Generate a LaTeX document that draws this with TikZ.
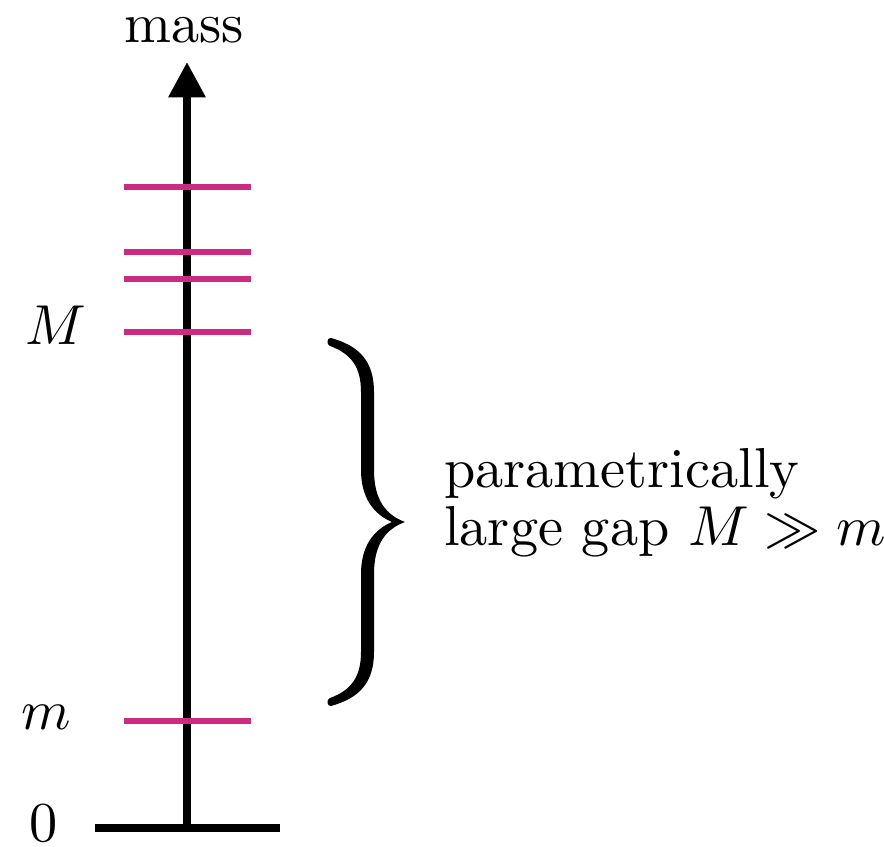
\documentclass[tikz,border=0pt]{standalone}
\usepackage{amsmath,amssymb}
\usetikzlibrary{arrows.meta}
\definecolor{lvl}{RGB}{204,44,128}
\begin{document}
\begin{tikzpicture}[x=0.1776pt,y=-0.1776pt,
  axisline/.style={line width=1.45pt},
  levelline/.style={draw=lvl,line width=0.9pt},
  lbl/.style={inner sep=0pt,anchor=base,font=\fontsize{10}{10.3}\selectfont}]
\useasboundingbox (0,0) rectangle (884,847);
% axis
\coordinate (o) at (187,828);
\coordinate (top) at (187,62);
\coordinate (bl) at (95,828);
\coordinate (br) at (280,828);
\draw[axisline] (bl) -- (br);
\draw[axisline,-{Triangle[length=6.3pt,width=6.3pt]}] (o) -- (top);
\node[lbl] (mass) at (184,43) {mass};
% levels
\foreach \y/\n in {187/a,252/b,279/c,332/d,721/e}{
  \coordinate (l\n) at (124,\y);
  \coordinate (r\n) at (251,\y);
  \draw[levelline] (l\n) -- (r\n);
}
\node[lbl] (Mlab) at (56,345) {$M$};
\node[lbl] (mlab) at (46,730) {$m$};
\node[lbl] (zero) at (44,842) {$0$};
% brace
\fill (331,338) .. controls (360,346) and (374,362) .. (374,392)
 -- (374,470)
 .. controls (374,500) and (386,515) .. (405,522)
 .. controls (386,529) and (374,544) .. (374,574)
 -- (374,652)
 .. controls (374,682) and (360,698) .. (331,706)
 .. controls (327,707) and (326,699) .. (330,698)
 .. controls (352,690) and (361,676) .. (361,652)
 -- (361,574)
 .. controls (361,547) and (373,530) .. (392,522)
 .. controls (373,514) and (361,497) .. (361,470)
 -- (361,392)
 .. controls (361,368) and (352,354) .. (330,346)
 .. controls (326,345) and (327,337) .. (331,338) -- cycle;
\node[lbl,anchor=base west] (t1) at (443,488) {parametrically};
\node[lbl,anchor=base west] (t2) at (443,546) {large gap $M\gg m$};
\end{tikzpicture}
\end{document}
